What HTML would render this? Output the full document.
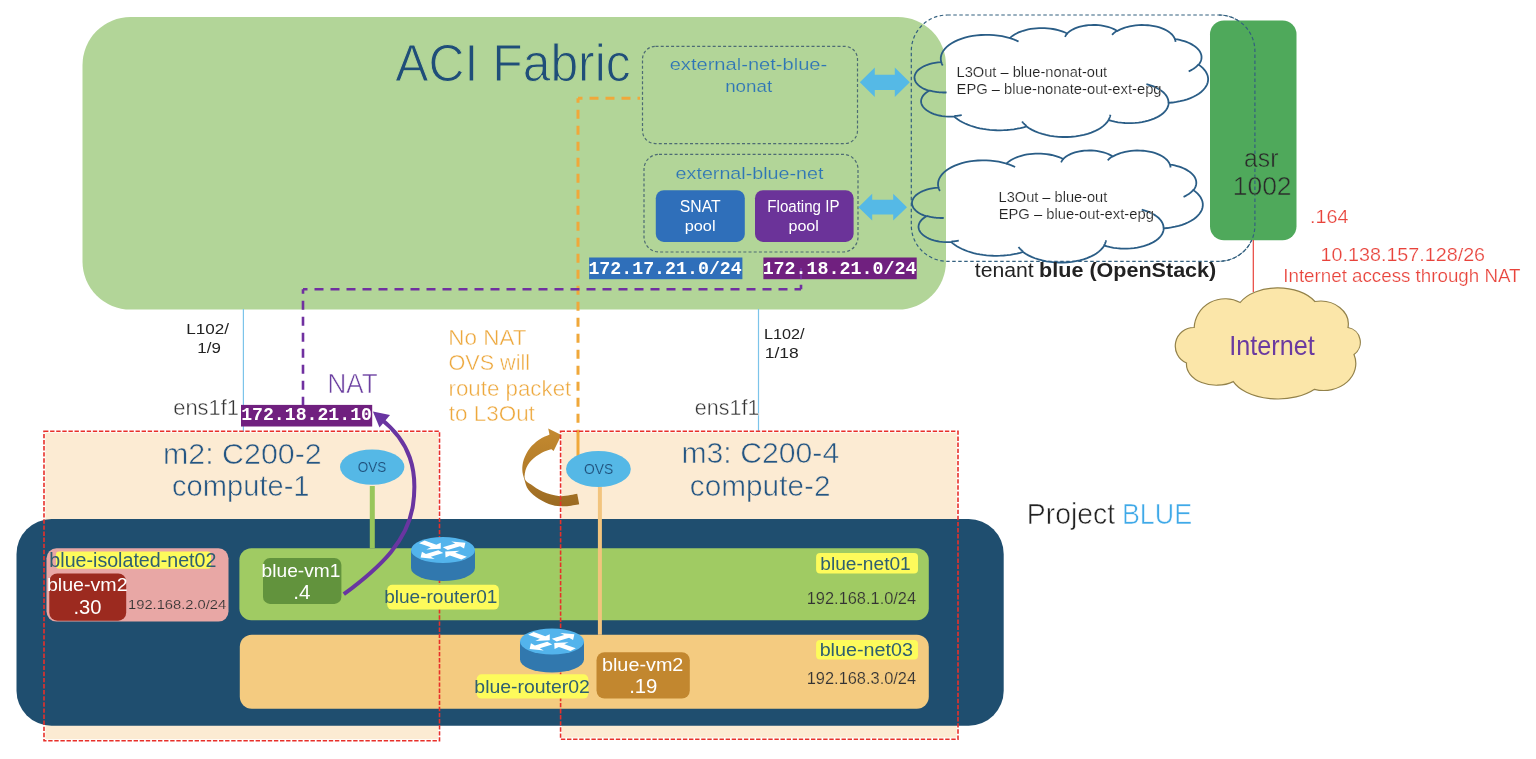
<!DOCTYPE html>
<html><head><meta charset="utf-8"><title>ACI Fabric - Project BLUE</title>
<style>html,body{margin:0;padding:0;background:#ffffff;overflow:hidden;width:1536px;height:759px}svg{display:block;will-change:transform}</style>
</head><body>
<svg width="1536" height="759" viewBox="0 0 1536 759">
<rect x="82.50" y="17.00" width="863.50" height="292.60" rx="48.00" fill="#b2d598" stroke="none" stroke-width="0.00" />
<text x="395.36" y="80.80" font-family='"Liberation Sans", sans-serif' font-size="51.00" font-weight="normal" textLength="235.34" lengthAdjust="spacingAndGlyphs" fill="#1f4e79" stroke="#b2d598" stroke-width="1.02">ACI Fabric</text>
<rect x="642.50" y="46.30" width="215.00" height="97.30" rx="13.00" fill="none" stroke="#4d6b73" stroke-width="1.20" stroke-dasharray="3 2.2" />
<text x="669.68" y="70.10" font-family='"Liberation Sans", sans-serif' font-size="17.00" font-weight="normal" textLength="157.57" lengthAdjust="spacingAndGlyphs" fill="#2e75b6" stroke="#b2d598" stroke-width="0.20">external-net-blue-</text>
<text x="725.16" y="91.80" font-family='"Liberation Sans", sans-serif' font-size="17.00" font-weight="normal" textLength="47.02" lengthAdjust="spacingAndGlyphs" fill="#2e75b6" stroke="#b2d598" stroke-width="0.20">nonat</text>
<rect x="644.00" y="154.30" width="214.00" height="97.70" rx="15.00" fill="none" stroke="#4d6b73" stroke-width="1.20" stroke-dasharray="3 2.2" />
<text x="675.61" y="178.50" font-family='"Liberation Sans", sans-serif' font-size="17.00" font-weight="normal" textLength="147.77" lengthAdjust="spacingAndGlyphs" fill="#2e75b6" stroke="#b2d598" stroke-width="0.20">external-blue-net</text>
<rect x="655.80" y="190.20" width="89.00" height="51.70" rx="8.00" fill="#2f6fba" stroke="none" stroke-width="0.00" />
<rect x="755.00" y="190.20" width="98.60" height="51.70" rx="8.00" fill="#6b3399" stroke="none" stroke-width="0.00" />
<text x="679.83" y="212.20" font-family='"Liberation Sans", sans-serif' font-size="16.00" font-weight="normal" textLength="40.79" lengthAdjust="spacingAndGlyphs" fill="#ffffff">SNAT</text>
<text x="684.69" y="230.80" font-family='"Liberation Sans", sans-serif' font-size="15.30" font-weight="normal" textLength="30.81" lengthAdjust="spacingAndGlyphs" fill="#ffffff">pool</text>
<text x="767.32" y="212.20" font-family='"Liberation Sans", sans-serif' font-size="16.00" font-weight="normal" textLength="72.15" lengthAdjust="spacingAndGlyphs" fill="#ffffff">Floating IP</text>
<text x="788.47" y="230.80" font-family='"Liberation Sans", sans-serif' font-size="15.30" font-weight="normal" textLength="30.42" lengthAdjust="spacingAndGlyphs" fill="#ffffff">pool</text>
<path d="M859.8 82.3 L874.8 67.5 L874.8 74.7 L894.8 74.7 L894.8 67.5 L909.8 82.3 L894.8 97.1 L894.8 89.9 L874.8 89.9 L874.8 97.1 Z" fill="#55b9e6" stroke="none" stroke-width="0.00" />
<path d="M858.4 207.2 L872.2 193.8 L872.2 199.8 L893.2 199.8 L893.2 193.8 L907.0 207.2 L893.2 220.6 L893.2 214.6 L872.2 214.6 L872.2 220.6 Z" fill="#55b9e6" stroke="none" stroke-width="0.00" />
<path d="M578 98.2 L578 456" fill="none" stroke="#f0a83a" stroke-width="3.00" stroke-dasharray="9 7" stroke-dashoffset="4.5"/>
<path d="M578 98.2 L640 98.2" fill="none" stroke="#f0a83a" stroke-width="3.00" stroke-dasharray="9 7" stroke-dashoffset="4.5"/>
<path d="M303 289.3 L303 405" fill="none" stroke="#7030a0" stroke-width="2.60" stroke-dasharray="9 7" stroke-dashoffset="4.5"/>
<path d="M303 289.3 L801 289.3" fill="none" stroke="#7030a0" stroke-width="2.60" stroke-dasharray="9 7" stroke-dashoffset="4.5"/>
<path d="M801 289.3 L801 262" fill="none" stroke="#7030a0" stroke-width="2.60" stroke-dasharray="9 7" stroke-dashoffset="4.5"/>
<rect x="589.10" y="257.50" width="153.30" height="21.70" rx="0.00" fill="#2f6fba" stroke="none" stroke-width="0.00" />
<rect x="763.40" y="257.50" width="153.30" height="21.70" rx="0.00" fill="#70207f" stroke="none" stroke-width="0.00" />
<path d="M801 268 L801 279.2" fill="none" stroke="#7a3aa8" stroke-width="1.50" />
<text x="588.42" y="273.50" font-family='"Liberation Mono", monospace' font-size="19.00" font-weight="bold" textLength="153.35" lengthAdjust="spacingAndGlyphs" fill="#ffffff">172.17.21.0/24</text>
<text x="762.63" y="273.50" font-family='"Liberation Mono", monospace' font-size="19.00" font-weight="bold" textLength="154.01" lengthAdjust="spacingAndGlyphs" fill="#ffffff">172.18.21.0/24</text>
<rect x="911.30" y="15.00" width="343.60" height="246.30" rx="36.00" fill="none" stroke="#33607f" stroke-width="1.20" stroke-dasharray="3.5 2.5" />
<path d="M941.18 61.86 L940.80 59.65 L940.82 57.43 L941.24 55.22 L942.05 53.04 L943.24 50.91 L944.82 48.85 L946.75 46.87 L949.03 44.99 L951.64 43.24 L954.55 41.61 L957.74 40.14 L961.18 38.82 L964.84 37.68 L968.68 36.71 L972.69 35.94 L976.81 35.37 L981.02 35.00 L985.28 34.83 L989.55 34.87 L993.79 35.11 L997.97 35.56 L1002.06 36.21 L1006.01 37.06 L1009.79 38.09 L1011.20 36.83 L1012.79 35.62 L1014.56 34.49 L1016.49 33.43 L1018.57 32.45 L1020.80 31.56 L1023.15 30.77 L1025.61 30.06 L1028.16 29.46 L1030.80 28.97 L1033.51 28.58 L1036.26 28.30 L1039.05 28.14 L1041.85 28.08 L1044.66 28.14 L1047.44 28.32 L1050.19 28.60 L1052.89 29.00 L1055.53 29.50 L1058.08 30.11 L1060.53 30.81 L1062.87 31.62 L1065.09 32.52 L1067.16 33.50 L1068.37 32.36 L1069.76 31.28 L1071.33 30.26 L1073.05 29.31 L1074.91 28.45 L1076.92 27.67 L1079.04 26.98 L1081.27 26.38 L1083.58 25.89 L1085.97 25.50 L1088.41 25.21 L1090.89 25.03 L1093.39 24.97 L1095.89 25.01 L1098.37 25.16 L1100.83 25.42 L1103.23 25.79 L1105.56 26.26 L1107.81 26.83 L1109.96 27.50 L1111.99 28.26 L1113.89 29.10 L1115.65 30.03 L1117.25 31.03 L1119.36 29.85 L1121.68 28.79 L1124.19 27.83 L1126.85 27.01 L1129.66 26.32 L1132.57 25.77 L1135.58 25.36 L1138.64 25.10 L1141.74 24.99 L1144.84 25.04 L1147.92 25.23 L1150.96 25.57 L1153.91 26.07 L1156.77 26.70 L1159.50 27.47 L1162.07 28.36 L1164.47 29.38 L1166.68 30.52 L1168.67 31.75 L1170.43 33.08 L1171.94 34.49 L1173.19 35.96 L1174.16 37.49 L1174.85 39.06 L1177.32 39.46 L1179.72 39.94 L1182.05 40.52 L1184.29 41.18 L1186.44 41.93 L1188.48 42.75 L1190.41 43.64 L1192.20 44.61 L1193.86 45.63 L1195.38 46.72 L1196.74 47.86 L1197.95 49.05 L1198.98 50.28 L1199.85 51.54 L1200.54 52.84 L1201.06 54.15 L1201.39 55.49 L1201.54 56.83 L1201.51 58.17 L1201.29 59.51 L1200.89 60.84 L1200.31 62.14 L1199.55 63.43 L1198.62 64.68 L1200.91 66.38 L1202.91 68.18 L1204.60 70.05 L1205.98 72.00 L1207.02 74.00 L1207.73 76.05 L1208.09 78.11 L1208.10 80.19 L1207.77 82.26 L1207.10 84.30 L1206.08 86.31 L1204.74 88.26 L1203.07 90.15 L1201.10 91.95 L1198.83 93.66 L1196.29 95.26 L1193.49 96.73 L1190.45 98.08 L1187.20 99.29 L1183.76 100.34 L1180.16 101.23 L1176.42 101.96 L1172.58 102.52 L1168.65 102.90 L1168.47 104.70 L1167.98 106.49 L1167.20 108.24 L1166.11 109.95 L1164.74 111.61 L1163.10 113.20 L1161.19 114.70 L1159.03 116.11 L1156.65 117.42 L1154.04 118.61 L1151.25 119.68 L1148.29 120.62 L1145.18 121.41 L1141.94 122.06 L1138.61 122.57 L1135.20 122.91 L1131.75 123.10 L1128.28 123.13 L1124.82 123.00 L1121.40 122.71 L1118.03 122.27 L1114.76 121.67 L1111.60 120.93 L1108.58 120.04 L1107.13 122.16 L1105.32 124.20 L1103.14 126.14 L1100.62 127.96 L1097.79 129.66 L1094.66 131.20 L1091.27 132.59 L1087.64 133.80 L1083.81 134.84 L1079.81 135.67 L1075.68 136.31 L1071.45 136.75 L1067.16 136.98 L1062.84 136.99 L1058.55 136.79 L1054.31 136.39 L1050.16 135.78 L1046.14 134.96 L1042.28 133.96 L1038.62 132.77 L1035.20 131.40 L1032.03 129.88 L1029.15 128.20 L1026.59 126.40 L1023.56 127.28 L1020.41 128.05 L1017.18 128.72 L1013.87 129.27 L1010.50 129.70 L1007.07 130.02 L1003.62 130.22 L1000.15 130.30 L996.67 130.26 L993.21 130.10 L989.78 129.82 L986.39 129.42 L983.05 128.91 L979.80 128.28 L976.62 127.54 L973.55 126.69 L970.59 125.74 L967.76 124.69 L965.07 123.54 L962.53 122.30 L960.16 120.98 L957.96 119.58 L955.94 118.10 L954.11 116.56 L951.11 116.66 L948.10 116.61 L945.12 116.39 L942.20 116.02 L939.37 115.50 L936.65 114.84 L934.07 114.03 L931.67 113.09 L929.46 112.03 L927.48 110.86 L925.73 109.59 L924.24 108.24 L923.02 106.81 L922.09 105.33 L921.45 103.81 L921.11 102.26 L921.08 100.70 L921.36 99.14 L921.94 97.61 L922.81 96.12 L923.97 94.68 L925.41 93.31 L927.11 92.03 L929.05 90.84 L926.47 89.95 L924.09 88.93 L921.92 87.78 L920.00 86.53 L918.33 85.17 L916.95 83.73 L915.86 82.23 L915.07 80.67 L914.61 79.08 L914.46 77.47 L914.63 75.86 L915.13 74.27 L915.94 72.72 L917.05 71.21 L918.46 69.78 L920.15 68.43 L922.10 67.19 L924.28 66.05 L926.69 65.04 L929.28 64.17 L932.03 63.44 L934.91 62.87 L937.89 62.45 L940.93 62.20 Z" fill="none" stroke="#2a5d86" stroke-width="1.80" />
<path d="M946.56 92.47 L945.82 92.49 L945.07 92.51 L944.32 92.51 L943.58 92.51 L942.83 92.49 L942.09 92.47 L941.34 92.44 L940.60 92.39 L939.86 92.34 L939.12 92.28 L938.39 92.20 L937.66 92.12 L936.94 92.03 L936.21 91.93 L935.50 91.82 L934.79 91.69 L934.08 91.56 L933.39 91.43 L932.70 91.28 L932.01 91.12 L931.34 90.95 L930.67 90.78 L930.01 90.59 L929.36 90.40 M961.74 115.08 L961.43 115.14 L961.13 115.20 L960.83 115.26 L960.52 115.31 L960.21 115.37 L959.91 115.42 L959.60 115.47 L959.29 115.52 L958.98 115.57 L958.66 115.62 L958.35 115.66 L958.04 115.70 L957.72 115.74 L957.41 115.78 L957.09 115.82 L956.77 115.85 L956.45 115.89 L956.14 115.92 L955.82 115.95 L955.50 115.97 L955.18 116.00 L954.86 116.02 L954.53 116.05 L954.21 116.07 M1026.57 125.94 L1026.35 125.77 L1026.13 125.59 L1025.91 125.41 L1025.69 125.23 L1025.48 125.05 L1025.27 124.87 L1025.06 124.68 L1024.86 124.50 L1024.66 124.31 L1024.46 124.13 L1024.27 123.94 L1024.08 123.75 L1023.89 123.56 L1023.70 123.37 L1023.52 123.18 L1023.35 122.99 L1023.17 122.80 L1023.00 122.61 L1022.83 122.41 L1022.67 122.22 L1022.51 122.02 L1022.35 121.83 L1022.19 121.63 L1022.04 121.43 M1110.42 114.70 L1110.38 114.90 L1110.34 115.11 L1110.30 115.32 L1110.25 115.53 L1110.21 115.74 L1110.15 115.95 L1110.10 116.16 L1110.04 116.37 L1109.97 116.57 L1109.91 116.78 L1109.84 116.99 L1109.76 117.20 L1109.69 117.40 L1109.60 117.61 L1109.52 117.81 L1109.43 118.02 L1109.34 118.22 L1109.25 118.43 L1109.15 118.63 L1109.05 118.84 L1108.94 119.04 L1108.83 119.24 L1108.72 119.44 L1108.61 119.65 M1146.41 84.11 L1148.05 84.55 L1149.65 85.03 L1151.20 85.54 L1152.70 86.10 L1154.15 86.69 L1155.54 87.31 L1156.88 87.97 L1158.16 88.66 L1159.37 89.38 L1160.52 90.13 L1161.59 90.90 L1162.60 91.70 L1163.53 92.53 L1164.39 93.37 L1165.17 94.24 L1165.87 95.13 L1166.49 96.03 L1167.03 96.94 L1167.49 97.87 L1167.86 98.80 L1168.14 99.75 L1168.35 100.70 L1168.46 101.65 L1168.49 102.61 M1198.48 64.41 L1198.20 64.74 L1197.91 65.07 L1197.60 65.39 L1197.29 65.72 L1196.96 66.04 L1196.62 66.35 L1196.27 66.66 L1195.90 66.97 L1195.53 67.28 L1195.14 67.58 L1194.75 67.88 L1194.34 68.17 L1193.92 68.46 L1193.49 68.75 L1193.05 69.03 L1192.60 69.30 L1192.14 69.58 L1191.67 69.84 L1191.19 70.11 L1190.70 70.36 L1190.20 70.62 L1189.69 70.86 L1189.18 71.11 L1188.65 71.34 M1174.90 38.67 L1174.94 38.80 L1174.98 38.94 L1175.03 39.07 L1175.07 39.21 L1175.10 39.34 L1175.14 39.48 L1175.17 39.62 L1175.20 39.75 L1175.23 39.89 L1175.26 40.03 L1175.28 40.16 L1175.31 40.30 L1175.33 40.44 L1175.35 40.57 L1175.36 40.71 L1175.38 40.85 L1175.39 40.98 L1175.40 41.12 L1175.41 41.26 L1175.41 41.39 L1175.42 41.53 L1175.42 41.67 L1175.42 41.81 L1175.41 41.94 M1112.12 34.85 L1112.28 34.66 L1112.45 34.47 L1112.62 34.28 L1112.79 34.10 L1112.97 33.92 L1113.16 33.73 L1113.35 33.55 L1113.54 33.37 L1113.73 33.19 L1113.93 33.01 L1114.14 32.84 L1114.35 32.66 L1114.56 32.49 L1114.78 32.32 L1115.00 32.14 L1115.22 31.97 L1115.45 31.81 L1115.68 31.64 L1115.92 31.47 L1116.16 31.31 L1116.40 31.15 L1116.65 30.99 L1116.90 30.83 L1117.16 30.67 M1065.02 36.84 L1065.09 36.68 L1065.16 36.53 L1065.23 36.37 L1065.31 36.22 L1065.39 36.06 L1065.47 35.91 L1065.56 35.76 L1065.64 35.60 L1065.73 35.45 L1065.83 35.30 L1065.93 35.15 L1066.03 35.00 L1066.13 34.85 L1066.24 34.70 L1066.35 34.55 L1066.46 34.40 L1066.57 34.25 L1066.69 34.10 L1066.81 33.96 L1066.94 33.81 L1067.06 33.67 L1067.19 33.52 L1067.33 33.38 L1067.46 33.23 M1009.75 38.06 L1010.15 38.18 L1010.55 38.31 L1010.94 38.44 L1011.33 38.56 L1011.72 38.70 L1012.11 38.83 L1012.49 38.96 L1012.87 39.10 L1013.25 39.24 L1013.62 39.38 L1014.00 39.52 L1014.37 39.67 L1014.74 39.82 L1015.10 39.97 L1015.46 40.12 L1015.82 40.27 L1016.17 40.42 L1016.53 40.58 L1016.88 40.74 L1017.22 40.90 L1017.57 41.06 L1017.91 41.22 L1018.24 41.39 L1018.58 41.56 M942.72 65.53 L942.63 65.38 L942.55 65.23 L942.47 65.08 L942.39 64.93 L942.31 64.78 L942.23 64.63 L942.16 64.48 L942.08 64.32 L942.01 64.17 L941.94 64.02 L941.87 63.86 L941.81 63.71 L941.75 63.56 L941.69 63.40 L941.63 63.25 L941.57 63.10 L941.51 62.94 L941.46 62.79 L941.41 62.63 L941.36 62.48 L941.31 62.32 L941.26 62.17 L941.22 62.01 L941.18 61.86" fill="none" stroke="#2a5d86" stroke-width="1.80" />
<path d="M938.43 187.36 L938.05 185.15 L938.07 182.93 L938.48 180.72 L939.29 178.54 L940.47 176.41 L942.03 174.35 L943.95 172.37 L946.20 170.49 L948.79 168.74 L951.67 167.11 L954.83 165.64 L958.23 164.32 L961.86 163.18 L965.67 162.21 L969.63 161.44 L973.72 160.87 L977.89 160.50 L982.10 160.33 L986.33 160.37 L990.54 160.61 L994.68 161.06 L998.72 161.71 L1002.63 162.56 L1006.38 163.59 L1007.78 162.33 L1009.35 161.12 L1011.11 159.99 L1013.02 158.93 L1015.08 157.95 L1017.28 157.06 L1019.61 156.27 L1022.05 155.56 L1024.58 154.96 L1027.19 154.47 L1029.87 154.08 L1032.60 153.80 L1035.36 153.64 L1038.14 153.58 L1040.91 153.64 L1043.67 153.82 L1046.40 154.10 L1049.07 154.50 L1051.68 155.00 L1054.21 155.61 L1056.64 156.31 L1058.96 157.12 L1061.15 158.02 L1063.21 159.00 L1064.41 157.86 L1065.78 156.78 L1067.33 155.76 L1069.03 154.81 L1070.89 153.95 L1072.87 153.17 L1074.97 152.48 L1077.17 151.88 L1079.47 151.39 L1081.83 151.00 L1084.25 150.71 L1086.71 150.53 L1089.18 150.47 L1091.66 150.51 L1094.12 150.66 L1096.55 150.92 L1098.93 151.29 L1101.24 151.76 L1103.47 152.33 L1105.59 153.00 L1107.60 153.76 L1109.49 154.60 L1111.23 155.53 L1112.81 156.53 L1114.91 155.35 L1117.21 154.29 L1119.69 153.33 L1122.33 152.51 L1125.11 151.82 L1127.99 151.27 L1130.97 150.86 L1134.00 150.60 L1137.07 150.49 L1140.15 150.54 L1143.20 150.73 L1146.20 151.07 L1149.13 151.57 L1151.96 152.20 L1154.66 152.97 L1157.21 153.86 L1159.59 154.88 L1161.77 156.02 L1163.75 157.25 L1165.49 158.58 L1166.98 159.99 L1168.22 161.46 L1169.18 162.99 L1169.87 164.56 L1172.31 164.96 L1174.69 165.44 L1177.00 166.02 L1179.22 166.68 L1181.35 167.43 L1183.37 168.25 L1185.28 169.14 L1187.05 170.11 L1188.70 171.13 L1190.20 172.22 L1191.55 173.36 L1192.74 174.55 L1193.77 175.78 L1194.63 177.04 L1195.32 178.34 L1195.82 179.65 L1196.15 180.99 L1196.30 182.33 L1196.27 183.67 L1196.05 185.01 L1195.66 186.34 L1195.08 187.64 L1194.33 188.93 L1193.41 190.18 L1195.68 191.88 L1197.66 193.68 L1199.34 195.55 L1200.70 197.50 L1201.73 199.50 L1202.43 201.55 L1202.79 203.61 L1202.80 205.69 L1202.47 207.76 L1201.80 209.80 L1200.80 211.81 L1199.47 213.76 L1197.82 215.65 L1195.86 217.45 L1193.62 219.16 L1191.10 220.76 L1188.33 222.23 L1185.32 223.58 L1182.10 224.79 L1178.69 225.84 L1175.12 226.73 L1171.42 227.46 L1167.61 228.02 L1163.73 228.40 L1163.55 230.20 L1163.07 231.99 L1162.29 233.74 L1161.21 235.45 L1159.86 237.11 L1158.23 238.70 L1156.34 240.20 L1154.20 241.61 L1151.84 242.92 L1149.26 244.11 L1146.49 245.18 L1143.56 246.12 L1140.47 246.91 L1137.27 247.56 L1133.97 248.07 L1130.60 248.41 L1127.18 248.60 L1123.74 248.63 L1120.31 248.50 L1116.92 248.21 L1113.59 247.77 L1110.35 247.17 L1107.22 246.43 L1104.23 245.54 L1102.80 247.66 L1101.00 249.70 L1098.84 251.64 L1096.35 253.46 L1093.54 255.16 L1090.44 256.70 L1087.08 258.09 L1083.49 259.30 L1079.69 260.34 L1075.73 261.17 L1071.64 261.81 L1067.45 262.25 L1063.20 262.48 L1058.93 262.49 L1054.67 262.29 L1050.47 261.89 L1046.36 261.28 L1042.38 260.46 L1038.56 259.46 L1034.94 258.27 L1031.55 256.90 L1028.41 255.38 L1025.56 253.70 L1023.02 251.90 L1020.02 252.78 L1016.90 253.55 L1013.70 254.22 L1010.42 254.77 L1007.08 255.20 L1003.69 255.52 L1000.27 255.72 L996.83 255.80 L993.39 255.76 L989.96 255.60 L986.56 255.32 L983.20 254.92 L979.90 254.41 L976.67 253.78 L973.53 253.04 L970.49 252.19 L967.56 251.24 L964.76 250.19 L962.09 249.04 L959.58 247.80 L957.23 246.48 L955.04 245.08 L953.05 243.60 L951.24 242.06 L948.26 242.16 L945.28 242.11 L942.33 241.89 L939.44 241.52 L936.63 241.00 L933.94 240.34 L931.39 239.53 L929.01 238.59 L926.82 237.53 L924.85 236.36 L923.12 235.09 L921.65 233.74 L920.44 232.31 L919.52 230.83 L918.89 229.31 L918.55 227.76 L918.52 226.20 L918.80 224.64 L919.37 223.11 L920.23 221.62 L921.38 220.18 L922.81 218.81 L924.49 217.53 L926.41 216.34 L923.86 215.45 L921.50 214.43 L919.35 213.28 L917.45 212.03 L915.80 210.67 L914.43 209.23 L913.35 207.73 L912.57 206.17 L912.11 204.58 L911.96 202.97 L912.13 201.36 L912.62 199.77 L913.43 198.22 L914.53 196.71 L915.93 195.28 L917.60 193.93 L919.53 192.69 L921.69 191.55 L924.07 190.54 L926.64 189.67 L929.36 188.94 L932.21 188.37 L935.16 187.95 L938.18 187.70 Z" fill="none" stroke="#2a5d86" stroke-width="1.80" />
<path d="M943.76 217.97 L943.02 217.99 L942.28 218.01 L941.54 218.01 L940.80 218.01 L940.06 217.99 L939.32 217.97 L938.59 217.94 L937.85 217.89 L937.12 217.84 L936.39 217.78 L935.66 217.70 L934.94 217.62 L934.22 217.53 L933.51 217.43 L932.80 217.32 L932.10 217.19 L931.40 217.06 L930.71 216.93 L930.02 216.78 L929.35 216.62 L928.68 216.45 L928.02 216.28 L927.37 216.09 L926.72 215.90 M958.79 240.58 L958.49 240.64 L958.19 240.70 L957.89 240.76 L957.58 240.81 L957.28 240.87 L956.98 240.92 L956.67 240.97 L956.36 241.02 L956.05 241.07 L955.74 241.12 L955.43 241.16 L955.12 241.20 L954.81 241.24 L954.50 241.28 L954.19 241.32 L953.87 241.35 L953.56 241.39 L953.24 241.42 L952.92 241.45 L952.61 241.47 L952.29 241.50 L951.97 241.52 L951.65 241.55 L951.33 241.57 M1023.01 251.44 L1022.78 251.27 L1022.56 251.09 L1022.35 250.91 L1022.13 250.73 L1021.92 250.55 L1021.71 250.37 L1021.51 250.18 L1021.31 250.00 L1021.11 249.81 L1020.91 249.63 L1020.72 249.44 L1020.53 249.25 L1020.35 249.06 L1020.16 248.87 L1019.98 248.68 L1019.81 248.49 L1019.64 248.30 L1019.47 248.11 L1019.30 247.91 L1019.14 247.72 L1018.98 247.52 L1018.82 247.33 L1018.67 247.13 L1018.52 246.93 M1106.05 240.20 L1106.01 240.40 L1105.98 240.61 L1105.93 240.82 L1105.89 241.03 L1105.84 241.24 L1105.79 241.45 L1105.73 241.66 L1105.67 241.87 L1105.61 242.07 L1105.54 242.28 L1105.47 242.49 L1105.40 242.70 L1105.32 242.90 L1105.24 243.11 L1105.16 243.31 L1105.07 243.52 L1104.98 243.72 L1104.89 243.93 L1104.79 244.13 L1104.69 244.34 L1104.59 244.54 L1104.48 244.74 L1104.37 244.94 L1104.26 245.15 M1141.70 209.61 L1143.32 210.05 L1144.90 210.53 L1146.44 211.04 L1147.92 211.60 L1149.36 212.19 L1150.74 212.81 L1152.07 213.47 L1153.33 214.16 L1154.53 214.88 L1155.67 215.63 L1156.74 216.40 L1157.73 217.20 L1158.66 218.03 L1159.51 218.87 L1160.28 219.74 L1160.97 220.63 L1161.59 221.53 L1162.12 222.44 L1162.57 223.37 L1162.94 224.30 L1163.23 225.25 L1163.42 226.20 L1163.54 227.15 L1163.57 228.11 M1193.27 189.91 L1192.99 190.24 L1192.70 190.57 L1192.40 190.89 L1192.09 191.22 L1191.76 191.54 L1191.43 191.85 L1191.08 192.16 L1190.72 192.47 L1190.35 192.78 L1189.97 193.08 L1189.57 193.38 L1189.17 193.67 L1188.75 193.96 L1188.33 194.25 L1187.89 194.53 L1187.45 194.80 L1186.99 195.08 L1186.53 195.34 L1186.05 195.61 L1185.57 195.86 L1185.07 196.12 L1184.57 196.36 L1184.06 196.61 L1183.54 196.84 M1169.91 164.17 L1169.96 164.30 L1170.00 164.44 L1170.04 164.57 L1170.08 164.71 L1170.12 164.84 L1170.15 164.98 L1170.19 165.12 L1170.22 165.25 L1170.25 165.39 L1170.27 165.53 L1170.30 165.66 L1170.32 165.80 L1170.34 165.94 L1170.36 166.07 L1170.37 166.21 L1170.39 166.35 L1170.40 166.48 L1170.41 166.62 L1170.42 166.76 L1170.42 166.89 L1170.43 167.03 L1170.43 167.17 L1170.43 167.31 L1170.43 167.44 M1107.74 160.35 L1107.90 160.16 L1108.06 159.97 L1108.23 159.78 L1108.40 159.60 L1108.58 159.42 L1108.76 159.23 L1108.95 159.05 L1109.14 158.87 L1109.33 158.69 L1109.53 158.51 L1109.73 158.34 L1109.94 158.16 L1110.15 157.99 L1110.37 157.82 L1110.58 157.64 L1110.81 157.47 L1111.03 157.31 L1111.26 157.14 L1111.50 156.97 L1111.74 156.81 L1111.98 156.65 L1112.22 156.49 L1112.47 156.33 L1112.72 156.17 M1061.09 162.34 L1061.15 162.18 L1061.22 162.03 L1061.30 161.87 L1061.37 161.72 L1061.45 161.56 L1061.53 161.41 L1061.62 161.26 L1061.70 161.10 L1061.79 160.95 L1061.89 160.80 L1061.98 160.65 L1062.08 160.50 L1062.18 160.35 L1062.29 160.20 L1062.40 160.05 L1062.51 159.90 L1062.62 159.75 L1062.74 159.60 L1062.86 159.46 L1062.98 159.31 L1063.11 159.17 L1063.24 159.02 L1063.37 158.88 L1063.50 158.73 M1006.34 163.56 L1006.74 163.68 L1007.13 163.81 L1007.52 163.94 L1007.91 164.06 L1008.29 164.20 L1008.68 164.33 L1009.06 164.46 L1009.43 164.60 L1009.81 164.74 L1010.18 164.88 L1010.55 165.02 L1010.92 165.17 L1011.28 165.32 L1011.64 165.47 L1012.00 165.62 L1012.35 165.77 L1012.71 165.92 L1013.05 166.08 L1013.40 166.24 L1013.74 166.40 L1014.08 166.56 L1014.42 166.72 L1014.75 166.89 L1015.08 167.06 M939.95 191.03 L939.87 190.88 L939.78 190.73 L939.70 190.58 L939.62 190.43 L939.54 190.28 L939.47 190.13 L939.39 189.98 L939.32 189.82 L939.25 189.67 L939.18 189.52 L939.12 189.36 L939.05 189.21 L938.99 189.06 L938.93 188.90 L938.87 188.75 L938.81 188.60 L938.76 188.44 L938.70 188.29 L938.65 188.13 L938.60 187.98 L938.56 187.82 L938.51 187.67 L938.47 187.51 L938.43 187.36" fill="none" stroke="#2a5d86" stroke-width="1.80" />
<text x="956.56" y="76.90" font-family='"Liberation Sans", sans-serif' font-size="14.80" font-weight="normal" textLength="150.61" lengthAdjust="spacingAndGlyphs" fill="#222222" stroke="#ffffff" stroke-width="0.18">L3Out – blue-nonat-out</text>
<text x="956.56" y="93.80" font-family='"Liberation Sans", sans-serif' font-size="14.80" font-weight="normal" textLength="205.00" lengthAdjust="spacingAndGlyphs" fill="#222222" stroke="#ffffff" stroke-width="0.18">EPG – blue-nonate-out-ext-epg</text>
<text x="998.58" y="202.00" font-family='"Liberation Sans", sans-serif' font-size="14.80" font-weight="normal" textLength="108.67" lengthAdjust="spacingAndGlyphs" fill="#222222" stroke="#ffffff" stroke-width="0.18">L3Out – blue-out</text>
<text x="998.64" y="219.00" font-family='"Liberation Sans", sans-serif' font-size="14.80" font-weight="normal" textLength="155.24" lengthAdjust="spacingAndGlyphs" fill="#222222" stroke="#ffffff" stroke-width="0.18">EPG – blue-out-ext-epg</text>
<text x="974.87" y="276.60" font-family='"Liberation Sans", sans-serif' font-size="20.50" font-weight="normal" textLength="58.87" lengthAdjust="spacingAndGlyphs" fill="#222222">tenant</text>
<text x="1039.14" y="276.60" font-family='"Liberation Sans", sans-serif' font-size="20.50" font-weight="bold" textLength="177.14" lengthAdjust="spacingAndGlyphs" fill="#222222">blue (OpenStack)</text>
<rect x="1210.00" y="20.40" width="86.50" height="219.90" rx="14.00" fill="#4fa95b" stroke="none" stroke-width="0.00" />
<path d="M1218.9 15 A36 36 0 0 1 1254.9 51 L1254.9 225.3 A36 36 0 0 1 1218.9 261.3" fill="none" stroke="#33607f" stroke-width="1.20" stroke-dasharray="3.5 2.5" />
<text x="1244.10" y="166.90" font-family='"Liberation Sans", sans-serif' font-size="26.50" font-weight="normal" textLength="34.28" lengthAdjust="spacingAndGlyphs" fill="#2b2b2b" stroke="#4fa95b" stroke-width="0.53">asr</text>
<text x="1232.77" y="194.90" font-family='"Liberation Sans", sans-serif' font-size="26.50" font-weight="normal" textLength="58.81" lengthAdjust="spacingAndGlyphs" fill="#2b2b2b" stroke="#4fa95b" stroke-width="0.53">1002</text>
<text x="1310.14" y="222.70" font-family='"Liberation Sans", sans-serif' font-size="18.50" font-weight="normal" textLength="38.45" lengthAdjust="spacingAndGlyphs" fill="#e8433b" stroke="#ffffff" stroke-width="0.22">.164</text>
<text x="1320.59" y="260.70" font-family='"Liberation Sans", sans-serif' font-size="18.50" font-weight="normal" textLength="164.52" lengthAdjust="spacingAndGlyphs" fill="#e8433b" stroke="#ffffff" stroke-width="0.22">10.138.157.128/26</text>
<text x="1283.29" y="281.50" font-family='"Liberation Sans", sans-serif' font-size="18.50" font-weight="normal" textLength="237.20" lengthAdjust="spacingAndGlyphs" fill="#e8433b" stroke="#ffffff" stroke-width="0.22">Internet access through NAT</text>
<path d="M1253.3 240 L1253.3 292" fill="none" stroke="#e8423b" stroke-width="1.20" />
<path d="M1240.20 302.50 A42.0 26.1 0 0 1 1314.90 301.50 A28.0 23.0 0 0 1 1348.00 327.50 A15.0 15.0 0 0 1 1354.00 354.50 A32.0 27.0 0 0 1 1314.50 389.30 A48.0 27.5 0 0 1 1233.30 381.60 A30.0 21.0 0 0 1 1186.50 363.00 A18.5 18.5 0 0 1 1194.20 327.50 A31.0 30.0 0 0 1 1240.20 302.50 Z" fill="#fbe6a9" stroke="#93824a" stroke-width="1.20" />
<text x="1229.34" y="354.70" font-family='"Liberation Sans", sans-serif' font-size="28.00" font-weight="normal" textLength="85.36" lengthAdjust="spacingAndGlyphs" fill="#6a3aa0">Internet</text>
<path d="M243.4 309 L243.4 432" fill="none" stroke="#7cc4ea" stroke-width="1.20" />
<path d="M758.5 309 L758.5 432" fill="none" stroke="#7cc4ea" stroke-width="1.20" />
<text x="186.15" y="334.00" font-family='"Liberation Sans", sans-serif' font-size="15.50" font-weight="normal" textLength="42.75" lengthAdjust="spacingAndGlyphs" fill="#222222">L102/</text>
<text x="197.31" y="352.60" font-family='"Liberation Sans", sans-serif' font-size="15.50" font-weight="normal" textLength="23.51" lengthAdjust="spacingAndGlyphs" fill="#222222">1/9</text>
<text x="764.01" y="339.30" font-family='"Liberation Sans", sans-serif' font-size="15.50" font-weight="normal" textLength="40.64" lengthAdjust="spacingAndGlyphs" fill="#222222">L102/</text>
<text x="764.79" y="357.90" font-family='"Liberation Sans", sans-serif' font-size="15.50" font-weight="normal" textLength="34.00" lengthAdjust="spacingAndGlyphs" fill="#222222">1/18</text>
<text x="173.20" y="415.10" font-family='"Liberation Sans", sans-serif' font-size="21.50" font-weight="normal" textLength="65.86" lengthAdjust="spacingAndGlyphs" fill="#333333" stroke="#ffffff" stroke-width="0.43">ens1f1</text>
<text x="694.87" y="415.30" font-family='"Liberation Sans", sans-serif' font-size="21.50" font-weight="normal" textLength="64.47" lengthAdjust="spacingAndGlyphs" fill="#333333" stroke="#ffffff" stroke-width="0.43">ens1f1</text>
<text x="327.58" y="393.00" font-family='"Liberation Sans", sans-serif' font-size="27.50" font-weight="normal" textLength="50.02" lengthAdjust="spacingAndGlyphs" fill="#6b3fa0" stroke="#ffffff" stroke-width="0.55">NAT</text>
<rect x="241.00" y="404.90" width="131.20" height="21.60" rx="0.00" fill="#70207f" stroke="none" stroke-width="0.00" />
<text x="241.15" y="420.20" font-family='"Liberation Mono", monospace' font-size="19.00" font-weight="bold" textLength="130.83" lengthAdjust="spacingAndGlyphs" fill="#ffffff">172.18.21.10</text>
<text x="448.31" y="344.60" font-family='"Liberation Sans", sans-serif' font-size="22.00" font-weight="normal" textLength="78.11" lengthAdjust="spacingAndGlyphs" fill="#eda83d" stroke="#ffffff" stroke-width="0.44">No NAT</text>
<text x="448.55" y="370.00" font-family='"Liberation Sans", sans-serif' font-size="22.00" font-weight="normal" textLength="81.55" lengthAdjust="spacingAndGlyphs" fill="#eda83d" stroke="#ffffff" stroke-width="0.44">OVS will</text>
<text x="448.52" y="396.10" font-family='"Liberation Sans", sans-serif' font-size="22.00" font-weight="normal" textLength="122.73" lengthAdjust="spacingAndGlyphs" fill="#eda83d" stroke="#ffffff" stroke-width="0.44">route packet</text>
<text x="448.84" y="421.40" font-family='"Liberation Sans", sans-serif' font-size="22.00" font-weight="normal" textLength="86.01" lengthAdjust="spacingAndGlyphs" fill="#eda83d" stroke="#ffffff" stroke-width="0.44">to L3Out</text>
<rect x="45.40" y="432.60" width="392.70" height="306.60" rx="0.00" fill="#fcebd3" stroke="none" stroke-width="0.00" />
<rect x="561.90" y="432.60" width="394.80" height="305.00" rx="0.00" fill="#fcebd3" stroke="none" stroke-width="0.00" />
<text x="163.03" y="464.00" font-family='"Liberation Sans", sans-serif' font-size="29.50" font-weight="normal" textLength="158.77" lengthAdjust="spacingAndGlyphs" fill="#255683" stroke="#fcebd3" stroke-width="0.59">m2: C200-2</text>
<text x="172.07" y="496.40" font-family='"Liberation Sans", sans-serif' font-size="29.50" font-weight="normal" textLength="137.46" lengthAdjust="spacingAndGlyphs" fill="#255683" stroke="#fcebd3" stroke-width="0.59">compute-1</text>
<text x="681.42" y="462.90" font-family='"Liberation Sans", sans-serif' font-size="29.50" font-weight="normal" textLength="157.79" lengthAdjust="spacingAndGlyphs" fill="#255683" stroke="#fcebd3" stroke-width="0.59">m3: C200-4</text>
<text x="689.83" y="495.50" font-family='"Liberation Sans", sans-serif' font-size="29.50" font-weight="normal" textLength="140.64" lengthAdjust="spacingAndGlyphs" fill="#255683" stroke="#fcebd3" stroke-width="0.59">compute-2</text>
<rect x="16.50" y="519.00" width="987.20" height="206.70" rx="35.00" fill="#1f4e6f" stroke="none" stroke-width="0.00" />
<text x="1026.78" y="523.60" font-family='"Liberation Sans", sans-serif' font-size="29.50" font-weight="normal" textLength="88.34" lengthAdjust="spacingAndGlyphs" fill="#222222" stroke="#ffffff" stroke-width="0.59">Project</text>
<text x="1121.89" y="523.60" font-family='"Liberation Sans", sans-serif' font-size="29.50" font-weight="normal" textLength="70.23" lengthAdjust="spacingAndGlyphs" fill="#3fa9e8" stroke="#ffffff" stroke-width="0.59">BLUE</text>
<rect x="46.50" y="548.30" width="182.00" height="73.30" rx="10.00" fill="#e8a7a5" stroke="none" stroke-width="0.00" />
<rect x="56.00" y="551.60" width="155.00" height="17.10" rx="3.00" fill="#fdfb5b" stroke="none" stroke-width="0.00" />
<text x="49.36" y="567.10" font-family='"Liberation Sans", sans-serif' font-size="19.50" font-weight="normal" textLength="167.02" lengthAdjust="spacingAndGlyphs" fill="#2f5f70">blue-isolated-net02</text>
<rect x="49.30" y="573.50" width="76.90" height="47.20" rx="8.00" fill="#9c2a1f" stroke="none" stroke-width="0.00" />
<text x="46.96" y="591.40" font-family='"Liberation Sans", sans-serif' font-size="19.00" font-weight="normal" textLength="80.60" lengthAdjust="spacingAndGlyphs" fill="#ffffff">blue-vm2</text>
<text x="73.50" y="613.50" font-family='"Liberation Sans", sans-serif' font-size="19.50" font-weight="normal" textLength="28.04" lengthAdjust="spacingAndGlyphs" fill="#ffffff">.30</text>
<text x="128.09" y="608.78" font-family='"Liberation Sans", sans-serif' font-size="13.63" font-weight="normal" textLength="98.07" lengthAdjust="spacingAndGlyphs" fill="#333333" stroke="#e8a7a5" stroke-width="0.16">192.168.2.0/24</text>
<rect x="239.40" y="548.30" width="689.40" height="72.00" rx="12.00" fill="#a0cb63" stroke="none" stroke-width="0.00" />
<rect x="239.80" y="634.80" width="689.00" height="74.00" rx="12.00" fill="#f4cb80" stroke="none" stroke-width="0.00" />
<rect x="263.00" y="558.00" width="78.40" height="45.90" rx="7.00" fill="#62933d" stroke="none" stroke-width="0.00" />
<text x="261.62" y="577.10" font-family='"Liberation Sans", sans-serif' font-size="19.00" font-weight="normal" textLength="78.67" lengthAdjust="spacingAndGlyphs" fill="#ffffff">blue-vm1</text>
<text x="293.37" y="598.80" font-family='"Liberation Sans", sans-serif' font-size="19.50" font-weight="normal" textLength="17.18" lengthAdjust="spacingAndGlyphs" fill="#ffffff">.4</text>
<rect x="816.10" y="553.10" width="101.90" height="20.50" rx="4.00" fill="#fdfb5b" stroke="none" stroke-width="0.00" />
<text x="820.34" y="569.90" font-family='"Liberation Sans", sans-serif' font-size="18.30" font-weight="normal" textLength="90.43" lengthAdjust="spacingAndGlyphs" fill="#2f5f70">blue-net01</text>
<text x="806.76" y="604.10" font-family='"Liberation Sans", sans-serif' font-size="16.00" font-weight="normal" textLength="109.35" lengthAdjust="spacingAndGlyphs" fill="#333333" stroke="#a0cb63" stroke-width="0.19">192.168.1.0/24</text>
<rect x="816.10" y="639.90" width="101.90" height="19.50" rx="4.00" fill="#fdfb5b" stroke="none" stroke-width="0.00" />
<text x="819.65" y="656.20" font-family='"Liberation Sans", sans-serif' font-size="18.30" font-weight="normal" textLength="93.23" lengthAdjust="spacingAndGlyphs" fill="#2f5f70">blue-net03</text>
<text x="806.76" y="683.80" font-family='"Liberation Sans", sans-serif' font-size="16.00" font-weight="normal" textLength="109.35" lengthAdjust="spacingAndGlyphs" fill="#333333" stroke="#f4cb80" stroke-width="0.19">192.168.3.0/24</text>
<rect x="596.50" y="652.20" width="93.30" height="46.40" rx="8.00" fill="#c2872f" stroke="none" stroke-width="0.00" />
<text x="601.98" y="671.20" font-family='"Liberation Sans", sans-serif' font-size="19.00" font-weight="normal" textLength="81.42" lengthAdjust="spacingAndGlyphs" fill="#ffffff">blue-vm2</text>
<text x="629.17" y="692.90" font-family='"Liberation Sans", sans-serif' font-size="19.50" font-weight="normal" textLength="28.28" lengthAdjust="spacingAndGlyphs" fill="#ffffff">.19</text>
<path d="M578 431 L578 456" fill="none" stroke="#f0a83a" stroke-width="3.00" />
<path d="M372.3 486 L372.3 548.3" fill="none" stroke="#98c65b" stroke-width="5.00" />
<path d="M599.9 487 L599.9 634.8" fill="none" stroke="#f2c47e" stroke-width="4.00" />
<defs><linearGradient id="brg" x1="0" y1="0" x2="0" y2="1"><stop offset="0" stop-color="#c48a30"/><stop offset="0.5" stop-color="#b47d2a"/><stop offset="1" stop-color="#9a6a22"/></linearGradient></defs>
<path d="M577.20 493.80 C574.35 494.20 565.82 496.53 560.10 496.20 C554.38 495.87 547.73 493.73 542.90 491.80 C538.07 489.87 534.12 486.77 531.10 484.60 C528.08 482.43 525.57 481.67 524.80 478.80 C524.03 475.93 525.02 470.83 526.50 467.40 C527.98 463.97 530.73 460.83 533.70 458.20 C536.67 455.57 541.33 453.10 544.30 451.60 C547.27 450.10 550.30 449.60 551.50 449.20 L553.6 451 L561.4 435 L548.2 428.4 L549.50 434.50 C547.75 435.38 542.28 437.50 539.00 439.80 C535.72 442.10 532.33 445.02 529.80 448.30 C527.27 451.58 525.05 455.87 523.80 459.50 C522.55 463.13 522.22 466.80 522.30 470.10 C522.38 473.40 523.28 476.02 524.30 479.30 C525.32 482.58 525.95 486.52 528.40 489.80 C530.85 493.08 535.03 496.47 539.00 499.00 C542.97 501.53 547.82 503.78 552.20 505.00 C556.58 506.22 560.80 506.42 565.30 506.30 C569.80 506.18 576.88 504.63 579.20 504.30 Z" fill="url(#brg)" stroke="none" stroke-width="0.00" />
<rect x="44.00" y="431.30" width="395.50" height="309.50" rx="0.00" fill="none" stroke="#e8302a" stroke-width="1.60" stroke-dasharray="4.4 1.7" />
<rect x="560.60" y="431.30" width="397.40" height="307.90" rx="0.00" fill="none" stroke="#e8302a" stroke-width="1.60" stroke-dasharray="4.4 1.7" />
<g><path d="M411.00 550.00 L411.00 568.00 A32.00 13.10 0 0 0 475.00 568.00 L475.00 550.00 Z" fill="#3178ae"/><ellipse cx="443.00" cy="550.00" rx="32.00" ry="13.10" fill="#53b4ec"/><g transform="translate(443.00 550.00) scale(32.000 13.100)" fill="#ffffff"><path d="M-0.070 -0.100 L-0.520 -0.043 L-0.381 -0.201 L-0.746 -0.522 L-0.574 -0.718 L-0.209 -0.396 L-0.070 -0.553 Z"/><path d="M0.700 -0.560 L0.658 -0.108 L0.534 -0.278 L0.147 0.005 L-0.007 -0.205 L0.381 -0.488 L0.257 -0.658 Z"/><path d="M-0.700 0.580 L-0.658 0.128 L-0.534 0.298 L-0.147 0.015 L0.007 0.225 L-0.381 0.508 L-0.257 0.678 Z"/><path d="M0.070 0.120 L0.519 0.055 L0.383 0.215 L0.744 0.521 L0.576 0.719 L0.215 0.413 L0.079 0.573 Z"/></g></g>
<g><path d="M520.00 641.50 L520.00 659.50 A32.00 13.10 0 0 0 584.00 659.50 L584.00 641.50 Z" fill="#3178ae"/><ellipse cx="552.00" cy="641.50" rx="32.00" ry="13.10" fill="#53b4ec"/><g transform="translate(552.00 641.50) scale(32.000 13.100)" fill="#ffffff"><path d="M-0.070 -0.100 L-0.520 -0.043 L-0.381 -0.201 L-0.746 -0.522 L-0.574 -0.718 L-0.209 -0.396 L-0.070 -0.553 Z"/><path d="M0.700 -0.560 L0.658 -0.108 L0.534 -0.278 L0.147 0.005 L-0.007 -0.205 L0.381 -0.488 L0.257 -0.658 Z"/><path d="M-0.700 0.580 L-0.658 0.128 L-0.534 0.298 L-0.147 0.015 L0.007 0.225 L-0.381 0.508 L-0.257 0.678 Z"/><path d="M0.070 0.120 L0.519 0.055 L0.383 0.215 L0.744 0.521 L0.576 0.719 L0.215 0.413 L0.079 0.573 Z"/></g></g>
<rect x="387.20" y="584.70" width="111.70" height="24.90" rx="5.00" fill="#fdfb5b" stroke="none" stroke-width="0.00" />
<text x="384.19" y="603.30" font-family='"Liberation Sans", sans-serif' font-size="19.00" font-weight="normal" textLength="113.25" lengthAdjust="spacingAndGlyphs" fill="#2f5f70">blue-router01</text>
<rect x="476.70" y="674.20" width="111.60" height="24.40" rx="5.00" fill="#fdfb5b" stroke="none" stroke-width="0.00" />
<text x="474.35" y="692.90" font-family='"Liberation Sans", sans-serif' font-size="19.00" font-weight="normal" textLength="115.56" lengthAdjust="spacingAndGlyphs" fill="#2f5f70">blue-router02</text>
<ellipse cx="372.2" cy="467.1" rx="32.2" ry="17.7" fill="#55b8e6"/>
<ellipse cx="598.4" cy="469" rx="32.4" ry="18.1" fill="#55b8e6"/>
<text x="357.81" y="472.30" font-family='"Liberation Sans", sans-serif' font-size="14.70" font-weight="normal" textLength="28.52" lengthAdjust="spacingAndGlyphs" fill="#1f4d78" stroke="#55b8e6" stroke-width="0.18">OVS</text>
<text x="583.98" y="474.00" font-family='"Liberation Sans", sans-serif' font-size="14.70" font-weight="normal" textLength="29.26" lengthAdjust="spacingAndGlyphs" fill="#1f4d78" stroke="#55b8e6" stroke-width="0.18">OVS</text>
<path d="M343.8 594.2 C382 566 408 540 413 505 C418 470 410 442 381 419" fill="none" stroke="#6935a1" stroke-width="4.00" />
<path d="M372.9 411.6 L390 415 L379.5 427.5 Z" fill="#6935a1" stroke="none" stroke-width="0.00" />
</svg>
</body></html>
